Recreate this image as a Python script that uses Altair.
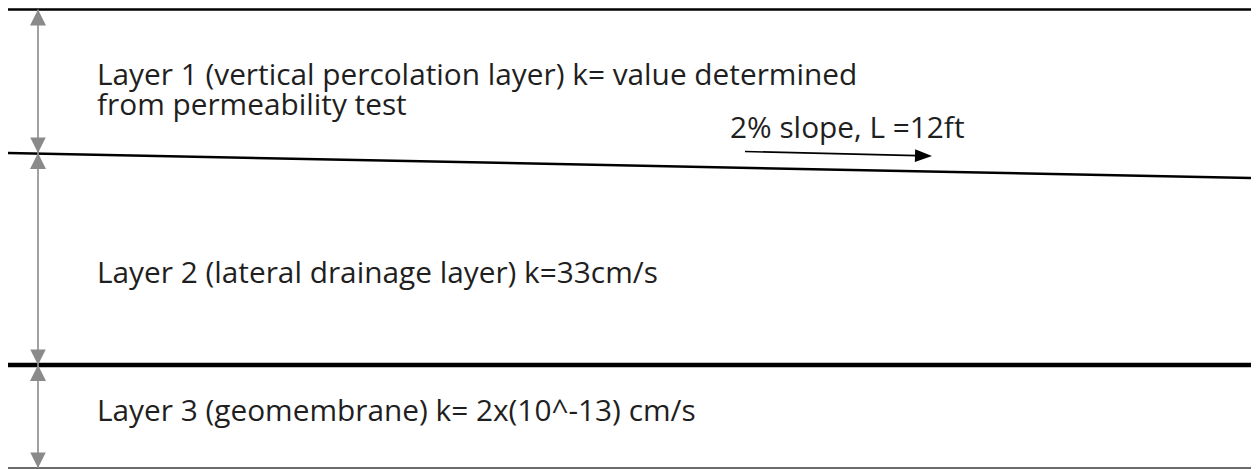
import altair as alt
import pandas as pd

# ---- data (drawing coordinates, in page pixels of the sketch) ----
# layer boundary lines
line_x0 = [8, 8, 8, 8]
line_x1 = [1251, 1251, 1251, 1251]
line_y0 = [9.5, 153, 365, 468]
line_y1 = [9.5, 178, 365, 468]
line_w = [2.5, 2.5, 4.5, 1.5]
line_c = ["#000000", "#000000", "#000000", "#3a3a3a"]

# vertical thickness (dimension) arrows
dim_x = [38, 38, 38]
dim_top = [9.5, 153, 365]
dim_bottom = [153, 365, 468]

# slope arrow
slope_x0 = [745]
slope_y0 = [151.5]
slope_x1 = [917]
slope_y1 = [155.6]
slope_tip_x = [932]
slope_tip_y = [156]

# labels
label_text = [
    "Layer 1 (vertical percolation layer) k= value determined\nfrom permeability test",
    "2% slope, L =12ft",
    "Layer 2 (lateral drainage layer) k=33cm/s",
    "Layer 3 (geomembrane) k= 2x(10^-13) cm/s",
]
label_x = [97, 730, 97, 97]
label_y = [85, 138, 283, 421]

# ---- tables ----
lines_df = pd.DataFrame({"x": line_x0, "x2": line_x1, "y": line_y0, "y2": line_y1,
                         "w": line_w, "c": line_c})
dims_df = pd.DataFrame({"x": dim_x, "y": dim_top, "y2": dim_bottom})
up_df = pd.DataFrame({"x": dim_x, "y": dim_top})
down_df = pd.DataFrame({"x": dim_x, "y": dim_bottom})
slope_df = pd.DataFrame({"x": slope_x0, "y": slope_y0, "x2": slope_x1, "y2": slope_y1})
tip_df = pd.DataFrame({"x": slope_tip_x, "y": slope_tip_y})
labels_df = pd.DataFrame({"x": label_x, "y": label_y, "t": label_text})

xs = alt.Scale(domain=[8, 1251], nice=False, zero=False)
ys = alt.Scale(domain=[8, 469], reverse=True, nice=False, zero=False)

X = lambda: alt.X("x:Q", scale=xs, axis=None)
Y = lambda: alt.Y("y:Q", scale=ys, axis=None)

lines = alt.Chart(lines_df).mark_rule().encode(
    x=X(), y=Y(), x2="x2:Q", y2="y2:Q",
    strokeWidth=alt.StrokeWidth("w:Q", scale=None),
    color=alt.Color("c:N", scale=None),
)

dims = alt.Chart(dims_df).mark_rule(color="#8a8a8a", strokeWidth=1.6).encode(
    x=X(), y=Y(), y2="y2:Q"
)

up_heads = alt.Chart(up_df).mark_point(
    shape="M0,0L-1,2L1,2Z", filled=True, size=256, color="#8a8a8a", opacity=1, strokeWidth=0
).encode(x=X(), y=Y())

down_heads = alt.Chart(down_df).mark_point(
    shape="M0,0L-1,-2L1,-2Z", filled=True, size=240, color="#8a8a8a", opacity=1, strokeWidth=0
).encode(x=X(), y=Y())

slope_shaft = alt.Chart(slope_df).mark_rule(color="#000000", strokeWidth=1.6).encode(
    x=X(), y=Y(), x2="x2:Q", y2="y2:Q"
)

slope_head = alt.Chart(tip_df).mark_point(
    shape="M0,0L-2,-0.76L-2,0.76Z", filled=True, size=289, color="#000000", opacity=1,
    strokeWidth=0, angle=1.4
).encode(x=X(), y=Y())

labels = alt.Chart(labels_df).mark_text(
    align="left", baseline="alphabetic", font="Open Sans", fontSize=29.8,
    color="#1f1f1f", lineBreak="\n", lineHeight=29.5
).encode(x=X(), y=Y(), text="t:N")

chart = alt.layer(
    lines, dims, up_heads, down_heads, slope_shaft, slope_head, labels
).properties(
    width=1243, height=461, padding=0, autosize=alt.AutoSizeParams(type="none")
).configure_view(stroke=None)

chart.save("out.html", embed_options={"renderer": "svg", "actions": False})
